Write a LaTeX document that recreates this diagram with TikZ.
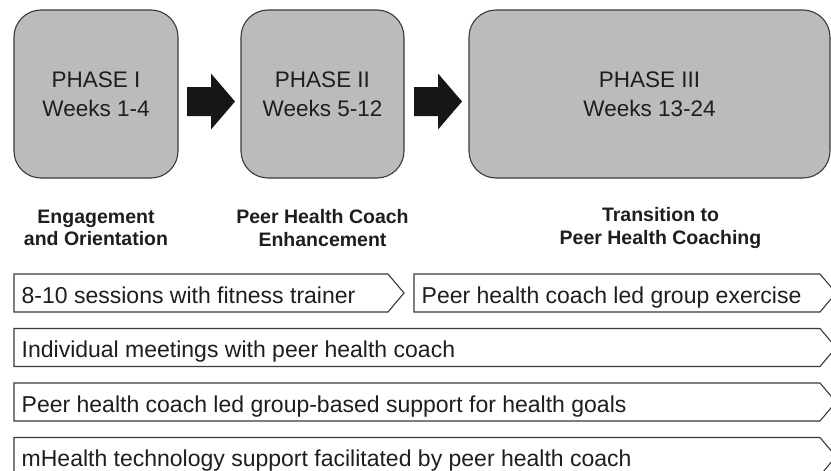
\documentclass[tikz,border=0pt]{standalone}
\usepackage{fontspec}
\setmainfont{Liberation Sans}
\usetikzlibrary{calc}

\definecolor{phasefill}{HTML}{BBBBBB}
\definecolor{edgegray}{HTML}{3A3A3A}
\definecolor{arrowblack}{HTML}{161616}
\definecolor{textgray}{HTML}{1E1E1E}

% block arrow placed halfway between two phase boxes
\newcommand\phasearrow[2]{%
  \path (#1.east) -- (#2.west) coordinate[pos=0.5] (mid-#1);
  \fill[blockarrow]
    ($(mid-#1)+(-22.5,-7)$) -- ($(mid-#1)+(1.5,-7)$) -- ($(mid-#1)+(1.5,-20.5)$) --
    ($(mid-#1)+(25.5,7.5)$) --
    ($(mid-#1)+(1.5,35.5)$) -- ($(mid-#1)+(1.5,22)$) -- ($(mid-#1)+(-22.5,22)$) -- cycle;}

% chevron-ended bar: left x, top y, corner x, bottom y
\newcommand\chevronbar[4]{%
  \draw[barline] (#1,#2) -- (#3,#2) -- ({#3+16},{(#2+#4)/2}) -- (#3,#4) -- (#1,#4) -- cycle;}

\begin{document}
\begin{tikzpicture}[x=1pt,y=-1pt,
  phase/.style={draw=edgegray, line width=1.1pt, fill=phasefill, rounded corners=27pt,
    align=center, text=textgray, inner sep=0pt,
    font=\fontsize{22.5}{28.6}\selectfont},
  stage/.style={align=center, inner sep=0pt, text=textgray,
    font=\bfseries\fontsize{19.5}{22.5}\selectfont},
  bartext/.style={anchor=base west, inner sep=0pt, text=textgray,
    font=\fontsize{23}{27}\selectfont},
  barline/.style={draw=edgegray, line width=1.1pt, fill=white, line join=miter},
  blockarrow/.style={fill=arrowblack}]

\clip (0,0) rectangle (831,471);
\fill[white] (0,0) rectangle (831,471);

% phases
\node[phase, minimum width=164pt, minimum height=168pt] (p1) at (96,94) {PHASE I\\Weeks 1-4};
\node[phase, minimum width=163pt, minimum height=168pt] (p2) at (322.5,94) {PHASE II\\Weeks 5-12};
\node[phase, minimum width=361pt, minimum height=168pt] (p3) at (649.5,94) {PHASE III\\Weeks 13-24};

\phasearrow{p1}{p2}
\phasearrow{p2}{p3}

% stage titles
\node[stage] (s1) at (96,228) {Engagement\\and Orientation};
\node[stage] (s2) at (322.5,228) {Peer Health Coach\\Enhancement};
\node[stage] (s3) at (660.5,228) {Transition to\\Peer Health Coaching};

% activity bars
\chevronbar{14}{274}{388}{312}
\chevronbar{414}{274}{820}{312}
\chevronbar{14}{328.5}{820}{366.5}
\chevronbar{14}{383}{820}{421}
\chevronbar{14}{437.5}{820}{475.5}

\node[bartext] (b1) at (21.5,303.3) {8-10 sessions with fitness trainer};
\node[bartext] (b2) at (421.5,303.3) {Peer health coach led group exercise};
\node[bartext] (b3) at (21.5,357.8) {Individual meetings with peer health coach};
\node[bartext] (b4) at (21.5,412.2) {Peer health coach led group-based support for health goals};
\node[bartext] (b5) at (21.5,466.6) {mHealth technology support facilitated by peer health coach};
\end{tikzpicture}
\end{document}
